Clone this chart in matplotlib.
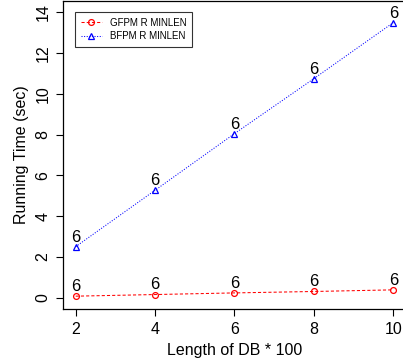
import matplotlib
matplotlib.use("Agg")
import matplotlib.pyplot as plt

plt.rcParams['font.family'] = ['Liberation Sans', 'DejaVu Sans']

# data
db_len = [2, 4, 6, 8, 10]
gfpm = [0.07, 0.15, 0.23, 0.30, 0.38]
bfpm = [2.50, 5.27, 8.05, 10.75, 13.50]
point_labels = ['6', '6', '6', '6', '6']

fig = plt.figure(figsize=(4.03, 3.61), dpi=100)
ax = fig.add_axes([63 / 403, 52 / 361, 343 / 403, 308 / 361])

ax.plot(db_len, gfpm, color='red', linestyle=(0, (3, 2)), lw=0.75,
        marker='o', markersize=4.2, markerfacecolor='none', markeredgewidth=0.9,
        label='GFPM R MINLEN')
ax.plot(db_len, bfpm, color='blue', linestyle=(0, (1, 1.5)), lw=0.75,
        marker='^', markersize=4.6, markerfacecolor='none', markeredgewidth=0.9,
        label='BFPM R MINLEN')

for xs, ys in [(db_len, gfpm), (db_len, bfpm)]:
    for x, y, t in zip(xs, ys, point_labels):
        ax.annotate(t, (x, y), xytext=(0, 1.5), textcoords='offset points',
                    ha='center', va='bottom', fontsize=12)

ax.set_xlim(1.68, 10.32)
ax.set_ylim(-0.56, 14.56)
ax.set_xticks(db_len)
ax.set_yticks([0, 2, 4, 6, 8, 10, 12, 14])
ax.tick_params(direction='out', length=5, width=0.8, labelsize=11.5, pad=4)
for lab in ax.get_yticklabels():
    lab.set_rotation(90)
    lab.set_va('center')
for s in ax.spines.values():
    s.set_linewidth(0.9)

ax.set_xlabel('Length of DB * 100', fontsize=11.5, labelpad=5)
ax.set_ylabel('Running Time (sec)', fontsize=11.5, labelpad=5)

leg = ax.legend(loc='upper left', bbox_to_anchor=(0.02, 0.98), fontsize=7,
                frameon=True, fancybox=False, edgecolor='black',
                handlelength=2.2, borderpad=0.6, labelspacing=0.35)
leg.get_frame().set_linewidth(0.8)

fig.savefig('out.png', dpi=100)
